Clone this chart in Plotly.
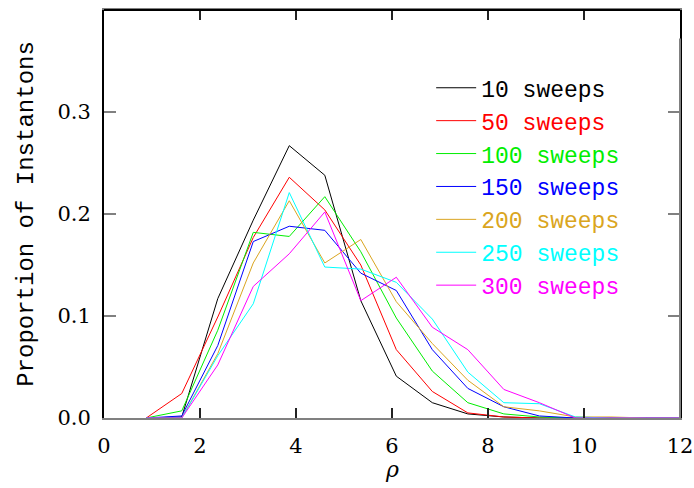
import plotly.graph_objects as go

rho = [0.88, 1.62, 2.37, 3.11, 3.86, 4.60, 5.35, 6.09, 6.84, 7.58, 8.33, 9.07, 9.82, 10.56, 11.31, 12.05]

labels = ["10 sweeps", "50 sweeps", "100 sweeps", "150 sweeps", "200 sweeps", "250 sweeps", "300 sweeps"]
colors = ["#000000", "#ff0000", "#00ee00", "#0000ff", "#daa520", "#00ffff", "#ff00ff"]

s10 = [0, 0.001, 0.117, 0.194, 0.267, 0.238, 0.115, 0.041, 0.015, 0.004, 0.001, 0, 0, 0, 0, 0]
s50 = [0, 0.024, 0.099, 0.177, 0.236, 0.204, 0.150, 0.067, 0.026, 0.005, 0.001, 0, 0, 0, 0, 0]
s100 = [0, 0.007, 0.086, 0.182, 0.178, 0.217, 0.163, 0.098, 0.046, 0.015, 0.004, 0.001, 0, 0, 0, 0]
s150 = [0, 0.002, 0.071, 0.173, 0.188, 0.184, 0.142, 0.125, 0.067, 0.029, 0.011, 0.002, 0, 0, 0, 0]
s200 = [0, 0, 0.063, 0.152, 0.213, 0.152, 0.175, 0.114, 0.073, 0.037, 0.011, 0.007, 0.001, 0.001, 0, 0]
s250 = [0, 0, 0.061, 0.112, 0.221, 0.148, 0.146, 0.133, 0.097, 0.045, 0.015, 0.014, 0.001, 0, 0, 0]
s300 = [0, 0, 0.052, 0.129, 0.161, 0.202, 0.115, 0.138, 0.089, 0.067, 0.028, 0.015, 0, 0, 0, 0]
series = [s10, s50, s100, s150, s200, s250, s300]

xticks = [0, 2, 4, 6, 8, 10, 12]
yticks = [0.0, 0.1, 0.2, 0.3]

TEXTFONT = "Liberation Mono"
TICKFONT = "DejaVu Serif"

fig = go.Figure()
for lab, col, ys in zip(labels, colors, series):
    fig.add_trace(go.Scatter(
        x=rho, y=ys, mode="lines",
        line=dict(color=col, width=1),
        name=f"<span style='color:{col}'>{lab}</span>",
    ))

fig.update_layout(
    width=694, height=488,
    margin=dict(l=104, r=14, t=10, b=70),
    paper_bgcolor="white", plot_bgcolor="white",
    font=dict(family=TICKFONT, size=21, color="black"),
    showlegend=True,
    legend=dict(
        x=0.568, y=0.862, xanchor="left", yanchor="top",
        bgcolor="rgba(0,0,0,0)", borderwidth=0,
        font=dict(family=TEXTFONT, size=23),
        itemwidth=40, tracegroupgap=0,
    ),
    xaxis=dict(
        range=[0, 12], tickvals=xticks, ticktext=[str(v) for v in xticks],
        showgrid=False, zeroline=False, automargin=False,
        showline=True, linecolor="#808080", linewidth=2, mirror="ticks",
        ticks="inside", ticklen=10, tickwidth=1.5, tickcolor="#222222",
        tickfont=dict(family=TICKFONT, size=21),
        ticklabelstandoff=8,
    ),
    yaxis=dict(
        range=[0, 0.4], tickvals=yticks, ticktext=[f"{v:.1f}" for v in yticks],
        showgrid=False, zeroline=False, automargin=False,
        showline=True, linecolor="#000000", linewidth=2, mirror="ticks",
        ticks="inside", ticklen=12, tickwidth=1.5, tickcolor="#808080",
        tickfont=dict(family=TICKFONT, size=21),
        ticklabelstandoff=7,
        title=dict(text="Proportion of Instantons", font=dict(family=TEXTFONT, size=24), standoff=17),
    ),
    annotations=[
        dict(text="<i>ρ</i>", xref="paper", yref="paper", x=0.5, y=-0.125,
             xanchor="center", yanchor="middle", showarrow=False,
             font=dict(family=TICKFONT, size=22, color="black")),
    ],
    shapes=[
        dict(type="line", xref="paper", yref="paper", x0=0, x1=1, y0=1, y1=1,
             line=dict(color="black", width=2), layer="above"),
        dict(type="line", xref="paper", yref="paper", x0=1, x1=1, y0=0, y1=0.93,
             line=dict(color="#808080", width=2), layer="above"),
    ],
)

fig.write_html("out.html")
